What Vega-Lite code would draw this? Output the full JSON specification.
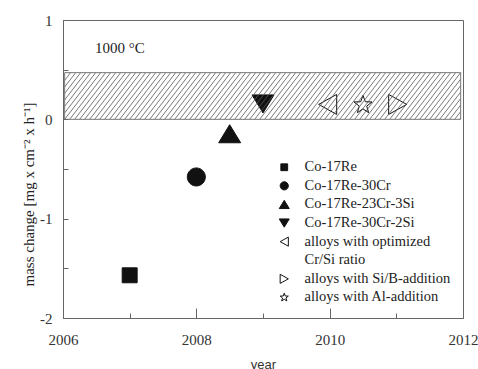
{
  "$schema": "https://vega.github.io/schema/vega-lite/v6.json",
  "width": 400,
  "height": 298,
  "autosize": "none",
  "padding": {"left": 63, "top": 20, "right": 15, "bottom": 51},
  "background": "white",
  "config": {
    "view": {"stroke": "#666", "strokeWidth": 1},
    "font": "Liberation Serif"
  },
  "datasets": {
    "hatch": [
      {"a": 2006.025, "b": 2006.565}, {"a": 2006.1, "b": 2006.64}, {"a": 2006.175, "b": 2006.715}, {"a": 2006.25, "b": 2006.79},
      {"a": 2006.325, "b": 2006.865}, {"a": 2006.4, "b": 2006.94}, {"a": 2006.475, "b": 2007.015}, {"a": 2006.55, "b": 2007.09},
      {"a": 2006.625, "b": 2007.165}, {"a": 2006.7, "b": 2007.24}, {"a": 2006.775, "b": 2007.315}, {"a": 2006.85, "b": 2007.39},
      {"a": 2006.925, "b": 2007.465}, {"a": 2007.0, "b": 2007.54}, {"a": 2007.075, "b": 2007.615}, {"a": 2007.15, "b": 2007.69},
      {"a": 2007.225, "b": 2007.765}, {"a": 2007.3, "b": 2007.84}, {"a": 2007.375, "b": 2007.915}, {"a": 2007.45, "b": 2007.99},
      {"a": 2007.525, "b": 2008.065}, {"a": 2007.6, "b": 2008.14}, {"a": 2007.675, "b": 2008.215}, {"a": 2007.75, "b": 2008.29},
      {"a": 2007.825, "b": 2008.365}, {"a": 2007.9, "b": 2008.44}, {"a": 2007.975, "b": 2008.515}, {"a": 2008.05, "b": 2008.59},
      {"a": 2008.125, "b": 2008.665}, {"a": 2008.2, "b": 2008.74}, {"a": 2008.275, "b": 2008.815}, {"a": 2008.35, "b": 2008.89},
      {"a": 2008.425, "b": 2008.965}, {"a": 2008.5, "b": 2009.04}, {"a": 2008.575, "b": 2009.115}, {"a": 2008.65, "b": 2009.19},
      {"a": 2008.725, "b": 2009.265}, {"a": 2008.8, "b": 2009.34}, {"a": 2008.875, "b": 2009.415}, {"a": 2008.95, "b": 2009.49},
      {"a": 2009.025, "b": 2009.565}, {"a": 2009.1, "b": 2009.64}, {"a": 2009.175, "b": 2009.715}, {"a": 2009.25, "b": 2009.79},
      {"a": 2009.325, "b": 2009.865}, {"a": 2009.4, "b": 2009.94}, {"a": 2009.475, "b": 2010.015}, {"a": 2009.55, "b": 2010.09},
      {"a": 2009.625, "b": 2010.165}, {"a": 2009.7, "b": 2010.24}, {"a": 2009.775, "b": 2010.315}, {"a": 2009.85, "b": 2010.39},
      {"a": 2009.925, "b": 2010.465}, {"a": 2010.0, "b": 2010.54}, {"a": 2010.075, "b": 2010.615}, {"a": 2010.15, "b": 2010.69},
      {"a": 2010.225, "b": 2010.765}, {"a": 2010.3, "b": 2010.84}, {"a": 2010.375, "b": 2010.915}, {"a": 2010.45, "b": 2010.99},
      {"a": 2010.525, "b": 2011.065}, {"a": 2010.6, "b": 2011.14}, {"a": 2010.675, "b": 2011.215}, {"a": 2010.75, "b": 2011.29},
      {"a": 2010.825, "b": 2011.365}, {"a": 2010.9, "b": 2011.44}, {"a": 2010.975, "b": 2011.515}, {"a": 2011.05, "b": 2011.59},
      {"a": 2011.125, "b": 2011.665}, {"a": 2011.2, "b": 2011.74}, {"a": 2011.275, "b": 2011.815}, {"a": 2011.35, "b": 2011.89},
      {"a": 2011.425, "b": 2011.965}
    ],
    "hatchEnds": [
      {"x": 2006.025, "y": 0.392, "x2": 2006.115, "y2": 0.47},
      {"x": 2006.025, "y": 0.326, "x2": 2006.19, "y2": 0.47},
      {"x": 2006.025, "y": 0.261, "x2": 2006.265, "y2": 0.47},
      {"x": 2006.025, "y": 0.196, "x2": 2006.34, "y2": 0.47},
      {"x": 2006.025, "y": 0.131, "x2": 2006.415, "y2": 0.47},
      {"x": 2006.025, "y": 0.065, "x2": 2006.49, "y2": 0.47},
      {"x": 2011.5, "y": 0, "x2": 2011.965, "y2": 0.405},
      {"x": 2011.575, "y": 0, "x2": 2011.965, "y2": 0.339},
      {"x": 2011.65, "y": 0, "x2": 2011.965, "y2": 0.274},
      {"x": 2011.725, "y": 0, "x2": 2011.965, "y2": 0.209},
      {"x": 2011.8, "y": 0, "x2": 2011.965, "y2": 0.144},
      {"x": 2011.875, "y": 0, "x2": 2011.965, "y2": 0.078},
      {"x": 2011.95, "y": 0, "x2": 2011.965, "y2": 0.013}
    ],
    "alloys": [
      {"year": 2007, "value": -1.57, "alloy": "Co-17Re"},
      {"year": 2008, "value": -0.58, "alloy": "Co-17Re-30Cr"},
      {"year": 2008.5, "value": -0.145, "alloy": "Co-17Re-23Cr-3Si"},
      {"year": 2009, "value": 0.155, "alloy": "Co-17Re-30Cr-2Si"},
      {"year": 2009.97, "value": 0.15, "alloy": "alloys with optimized Cr/Si ratio"},
      {"year": 2010.5, "value": 0.145, "alloy": "alloys with Al-addition"},
      {"year": 2011.02, "value": 0.15, "alloy": "alloys with Si/B-addition"}
    ]
  },
  "layer": [
    {
      "data": {"name": "alloys"},
      "mark": {"type": "point", "stroke": "#111", "strokeWidth": 1, "opacity": 1, "fillOpacity": 1, "size": 484},
      "encoding": {
        "x": {
          "field": "year", "type": "quantitative",
          "scale": {"domain": [2006, 2012], "nice": false, "zero": false},
          "axis": {
            "title": "year", "values": [2006, 2007, 2008, 2009, 2010, 2011, 2012],
            "labelExpr": "datum.value % 2 == 0 ? '' + datum.value : ''",
            "labelFlush": false, "labelOverlap": false,
            "labelFont": "Liberation Serif", "labelFontSize": 15, "labelColor": "#333", "labelPadding": 24,
            "domainColor": "#666", "tickColor": "#666", "tickWidth": 1,
            "tickSize": {"condition": {"test": "datum.value % 2 == 0", "value": -10}, "value": -5},
            "grid": false, "zindex": 1,
            "titleFont": "Liberation Sans", "titleFontSize": 13, "titleFontWeight": "normal", "titleColor": "#333",
            "titleBaseline": "alphabetic", "titleY": 50
          }
        },
        "y": {
          "field": "value", "type": "quantitative",
          "scale": {"domain": [-2, 1], "nice": false, "zero": false},
          "axis": {
            "title": "mass change [mg x cm⁻² x h⁻¹]", "values": [-2, -1.5, -1, -0.5, 0, 0.5, 1],
            "labelExpr": "datum.value % 1 == 0 ? '' + datum.value : ''",
            "labelOverlap": false,
            "labelFont": "Liberation Serif", "labelFontSize": 15, "labelColor": "#333", "labelPadding": 16,
            "domainColor": "#666", "tickColor": "#666", "tickWidth": 1, "tickSize": -5,
            "grid": false, "zindex": 1,
            "titleFont": "Liberation Serif", "titleFontSize": 15, "titleFontWeight": "normal", "titleColor": "#222",
            "titleX": -27, "titleY": 174
          }
        },
        "shape": {
          "field": "alloy", "type": "nominal",
          "scale": {
            "domain": ["Co-17Re", "Co-17Re-30Cr", "Co-17Re-23Cr-3Si", "Co-17Re-30Cr-2Si", "alloys with optimized Cr/Si ratio", "Cr/Si ratio", "alloys with Si/B-addition", "alloys with Al-addition"],
            "range": [
              "M-0.68,-0.68H0.68V0.68H-0.68Z",
              "M-0.82,0A0.82,0.82,0,1,0,0.82,0A0.82,0.82,0,1,0,-0.82,0Z",
              "M0,-0.82L1,0.82L-1,0.82Z",
              "M-1,-0.82L1,-0.82L0,0.82Z",
              "M-0.82,0L0.82,-0.91L0.82,0.91Z",
              "M0,0Z",
              "M0.82,0L-0.82,-0.91L-0.82,0.91Z",
              "M0,-0.86L0.21,-0.29L0.82,-0.27L0.34,0.11L0.51,0.7L0,0.36L-0.51,0.7L-0.34,0.11L-0.82,-0.27L-0.21,-0.29Z"
            ]
          },
          "legend": {
            "title": null, "orient": "none", "legendX": 214, "legendY": 140, "padding": 0,
            "labelExpr": "datum.label == 'alloys with optimized Cr/Si ratio' ? 'alloys with optimized' : datum.label",
            "labelFont": "Liberation Serif", "labelFontSize": 14.5, "labelColor": "#222", "labelOffset": 13, "labelLimit": 300,
            "symbolStrokeColor": "#111", "symbolStrokeWidth": 1, "symbolSize": 100, "symbolOpacity": 1, "rowPadding": 3.6,
            "encode": {"symbols": {"update": {"stroke": {"value": "#111"}, "strokeWidth": {"value": 1}}}}
          }
        },
        "fill": {
          "field": "alloy", "type": "nominal",
          "scale": {
            "domain": ["Co-17Re", "Co-17Re-30Cr", "Co-17Re-23Cr-3Si", "Co-17Re-30Cr-2Si", "alloys with optimized Cr/Si ratio", "Cr/Si ratio", "alloys with Si/B-addition", "alloys with Al-addition"],
            "range": ["#111", "#111", "#111", "#111", "transparent", "transparent", "transparent", "transparent"]
          },
          "legend": {
            "title": null, "orient": "none", "legendX": 214, "legendY": 140, "padding": 0,
            "labelExpr": "datum.label == 'alloys with optimized Cr/Si ratio' ? 'alloys with optimized' : datum.label",
            "labelFont": "Liberation Serif", "labelFontSize": 14.5, "labelColor": "#222", "labelOffset": 13, "labelLimit": 300,
            "symbolStrokeColor": "#111", "symbolStrokeWidth": 1, "symbolSize": 100, "symbolOpacity": 1, "rowPadding": 3.6,
            "encode": {"symbols": {"update": {"stroke": {"value": "#111"}, "strokeWidth": {"value": 1}}}}
          }
        }
      }
    },
    {
      "data": {"name": "hatch"},
      "mark": {"type": "rule", "color": "#555", "strokeWidth": 0.8},
      "encoding": {
        "x": {"field": "a", "type": "quantitative"},
        "x2": {"field": "b"},
        "y": {"datum": 0, "type": "quantitative"},
        "y2": {"datum": 0.47}
      }
    },
    {
      "data": {"name": "hatchEnds"},
      "mark": {"type": "rule", "color": "#555", "strokeWidth": 0.8},
      "encoding": {
        "x": {"field": "x", "type": "quantitative"},
        "x2": {"field": "x2"},
        "y": {"field": "y", "type": "quantitative"},
        "y2": {"field": "y2"}
      }
    },
    {
      "data": {"values": [{"x": 2006.025, "x2": 2011.965, "y": 0, "y2": 0.47}]},
      "mark": {"type": "rect", "fill": null, "stroke": "#777", "strokeWidth": 1},
      "encoding": {
        "x": {"field": "x", "type": "quantitative"},
        "x2": {"field": "x2"},
        "y": {"field": "y", "type": "quantitative"},
        "y2": {"field": "y2"}
      }
    },
    {
      "data": {"values": [{"year": 2006.48, "value": 0.72, "label": "1000 °C"}]},
      "mark": {"type": "text", "align": "left", "baseline": "middle", "font": "Liberation Serif", "fontSize": 15, "color": "#222"},
      "encoding": {
        "x": {"field": "year", "type": "quantitative"},
        "y": {"field": "value", "type": "quantitative"},
        "text": {"field": "label"}
      }
    }
  ]
}
